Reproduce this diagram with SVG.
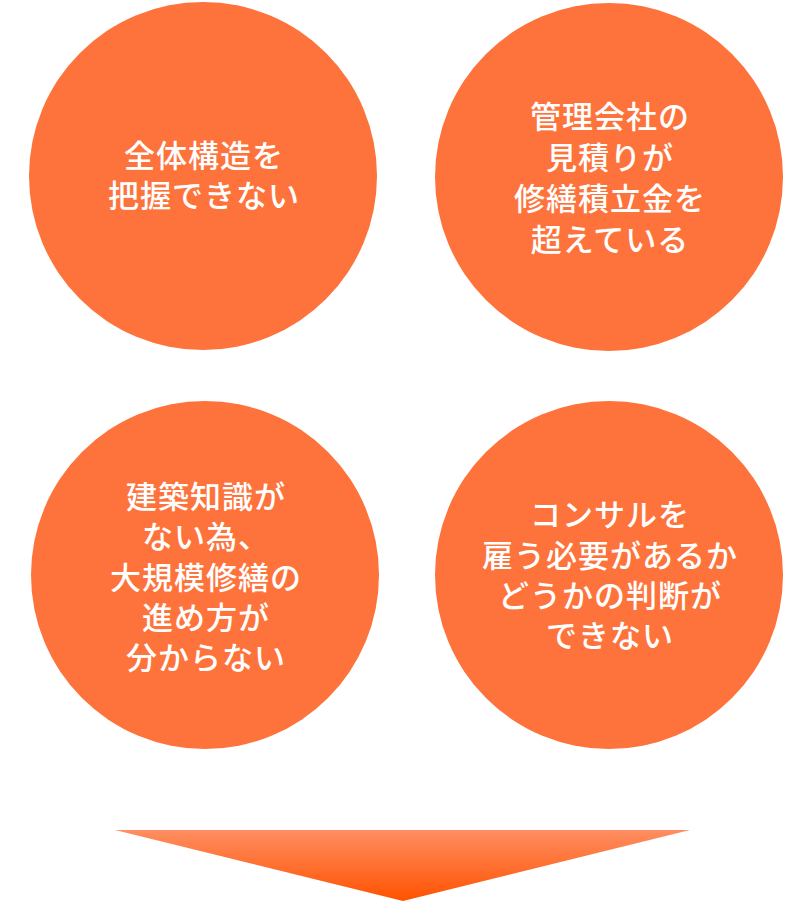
<svg xmlns="http://www.w3.org/2000/svg" width="800" height="923" viewBox="0 0 800 923">
<style>
.c{fill:#FE733C}
.t{fill:#FFFFFF;font-family:"Noto Sans CJK JP","Noto Sans",sans-serif;font-size:31px;font-weight:500;letter-spacing:1px;text-anchor:middle}
</style>
<defs>
<linearGradient id="g" x1="0" y1="0" x2="0" y2="1">
<stop offset="0" stop-color="#FF8E62"/>
<stop offset="1" stop-color="#FF5200"/>
</linearGradient>
</defs>
<rect width="800" height="923" fill="#FFFFFF"/>
<g id="n1">
<circle class="c" cx="203" cy="176" r="174"/>
<text class="t" x="204"><tspan x="204" y="167">全体構造を</tspan><tspan x="204" y="207">把握できない</tspan></text>
</g>
<g id="n2">
<circle class="c" cx="609" cy="177" r="174"/>
<text class="t" x="610"><tspan x="610" y="128">管理会社の</tspan><tspan x="610" y="169">見積りが</tspan><tspan x="610" y="210">修繕積立金を</tspan><tspan x="610" y="251">超えている</tspan></text>
</g>
<g id="n3">
<circle class="c" cx="205" cy="575" r="174"/>
<text class="t" x="206"><tspan x="206" y="508">建築知識が</tspan><tspan x="206" y="548">ない為、</tspan><tspan x="206" y="589">大規模修繕の</tspan><tspan x="206" y="629">進め方が</tspan><tspan x="206" y="669">分からない</tspan></text>
</g>
<g id="n4">
<circle class="c" cx="609" cy="575" r="174"/>
<text class="t" x="610"><tspan x="610" y="526">コンサルを</tspan><tspan x="610" y="567">雇う必要があるか</tspan><tspan x="610" y="607">どうかの判断が</tspan><tspan x="610" y="647">できない</tspan></text>
</g>
<g id="connectors">
<polygon points="115,830 690,830 403,901" fill="url(#g)"/>
</g>
</svg>
